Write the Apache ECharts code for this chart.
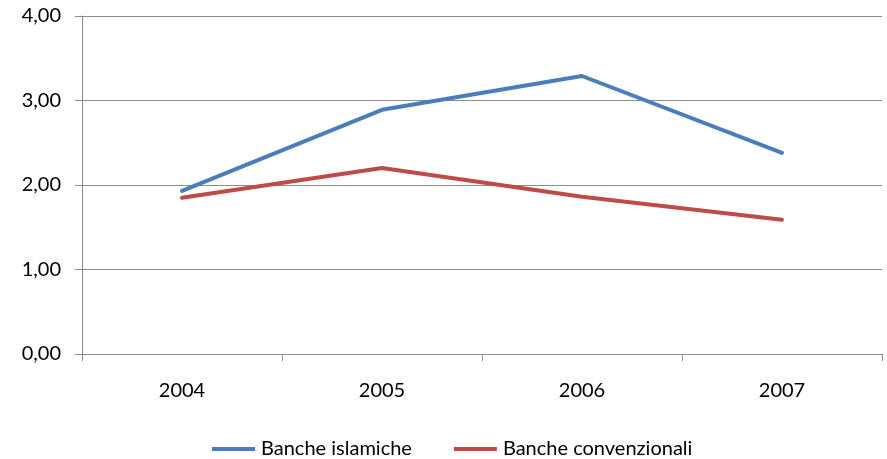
<!DOCTYPE html>
<html>
<head>
<meta charset="utf-8">
<script src="https://cdn.jsdelivr.net/npm/echarts@6/dist/echarts.min.js"></script>
<style>
  html, body { margin: 0; padding: 0; background: #ffffff; }
  #chart { width: 887px; height: 459px; }
</style>
</head>
<body>
<div id="chart"></div>
<script>
// Years on the category axis
const years = ['2004', '2005', '2006', '2007'];
// Series values
const islamiche = [1.93, 2.89, 3.29, 2.38];
const convenzionali = [1.85, 2.20, 1.86, 1.59];
const seriesNames = ['Banche islamiche', 'Banche convenzionali'];

const FONT = 'Lato, "Open Sans", sans-serif';
const GRID_GREY = '#8c8c8c';

const chart = echarts.init(document.getElementById('chart'), null, { renderer: 'canvas' });

chart.setOption({
  animation: false,
  backgroundColor: '#ffffff',
  grid: { left: 82, right: 5, top: 16, bottom: 105, containLabel: false },
  legend: {
    data: seriesNames,
    top: 439,
    left: 212,
    padding: 0,
    itemWidth: 43,
    itemHeight: 4,
    itemGap: 42,
    icon: 'rect',
    textStyle: { fontFamily: FONT, fontSize: 20, color: '#000000', padding: [0, 0, 0, 1] }
  },
  xAxis: {
    type: 'category',
    data: years,
    boundaryGap: true,
    axisLine: { lineStyle: { color: GRID_GREY, width: 1 } },
    axisTick: { show: true, length: 7, lineStyle: { color: GRID_GREY } },
    axisLabel: { fontFamily: FONT, fontSize: 20, color: '#000000', margin: 27 }
  },
  yAxis: {
    type: 'value',
    min: 0,
    max: 4,
    interval: 1,
    axisLine: { show: true, lineStyle: { color: GRID_GREY, width: 1 } },
    axisTick: { show: true, inside: false, length: 7, lineStyle: { color: GRID_GREY } },
    splitLine: { show: true, lineStyle: { color: GRID_GREY, width: 1 } },
    axisLabel: {
      fontFamily: FONT, fontSize: 20, color: '#000000', margin: 21,
      formatter: v => v.toFixed(2).replace('.', ',')
    }
  },
  series: [
    {
      name: seriesNames[0],
      type: 'line',
      data: islamiche,
      symbol: 'none',
      color: '#4a7ebb',
      lineStyle: { width: 4, color: '#4a7ebb', cap: 'round' }
    },
    {
      name: seriesNames[1],
      type: 'line',
      data: convenzionali,
      symbol: 'none',
      color: '#be4b48',
      lineStyle: { width: 4, color: '#be4b48', cap: 'round' }
    }
  ]
});
</script>
</body>
</html>
